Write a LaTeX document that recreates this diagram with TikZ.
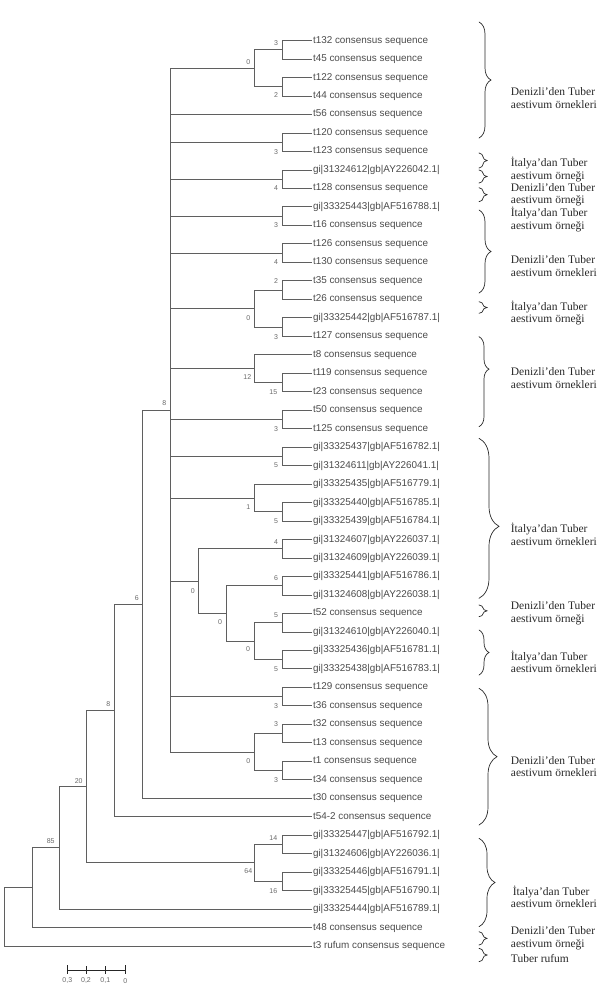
\documentclass[tikz,border=0pt]{standalone}
\usepackage{fontspec}
\setmainfont{Liberation Serif}
\setsansfont{Liberation Sans}
\usepackage{tikz}
\usetikzlibrary{decorations.pathreplacing}
\definecolor{treegray}{RGB}{95,95,95}
\definecolor{labgray}{RGB}{75,75,75}
\definecolor{bootgray}{RGB}{105,105,105}
\definecolor{notegray}{RGB}{40,40,40}

\tikzset{
  branch/.style={draw=treegray, line width=0.8pt},
  leaf/.style={anchor=west, inner sep=1pt, outer sep=0pt, text=labgray, font=\sffamily\fontsize{9.9}{11}\selectfont, text height=7pt, text depth=2pt},
  boot/.style={inner sep=0pt, text=bootgray, font=\sffamily\fontsize{7}{8}\selectfont},
  note/.style={anchor=west, inner sep=0pt, align=left, text=notegray, font=\fontsize{11.5}{12.7}\selectfont},
  notebrace/.style={draw=notegray, line width=0.7pt, line cap=round, decorate, decoration={brace, amplitude=#1}},
  notebrace/.default=12pt
}

\begin{document}
\begin{tikzpicture}[x=1pt,y=1pt,yscale=-1,xscale=1]
\useasboundingbox (0,0) rectangle (612,986);

% Text Node (leaves)
\node[leaf] (t132) at (312,40.5) {t132 consensus sequence};
\node[leaf] (t45) at (312,59.0) {t45 consensus sequence};
\node[leaf] (t122) at (312,77.5) {t122 consensus sequence};
\node[leaf] (t44) at (312,95.9) {t44 consensus sequence};
\node[leaf] (t56) at (312,114.4) {t56 consensus sequence};
\node[leaf] (t120) at (312,132.9) {t120 consensus sequence};
\node[leaf] (t123) at (312,151.4) {t123 consensus sequence};
\node[leaf] (gi612) at (312,169.9) {gi|31324612|gb|AY226042.1|};
\node[leaf] (t128) at (312,188.3) {t128 consensus sequence};
\node[leaf] (gi443) at (312,206.8) {gi|33325443|gb|AF516788.1|};
\node[leaf] (t16) at (312,225.3) {t16 consensus sequence};
\node[leaf] (t126) at (312,243.8) {t126 consensus sequence};
\node[leaf] (t130) at (312,262.3) {t130 consensus sequence};
\node[leaf] (t35) at (312,280.7) {t35 consensus sequence};
\node[leaf] (t26) at (312,299.2) {t26 consensus sequence};
\node[leaf] (gi442) at (312,317.7) {gi|33325442|gb|AF516787.1|};
\node[leaf] (t127) at (312,336.2) {t127 consensus sequence};
\node[leaf] (t8) at (312,354.7) {t8 consensus sequence};
\node[leaf] (t119) at (312,373.1) {t119 consensus sequence};
\node[leaf] (t23) at (312,391.6) {t23 consensus sequence};
\node[leaf] (t50) at (312,410.1) {t50 consensus sequence};
\node[leaf] (t125) at (312,428.6) {t125 consensus sequence};
\node[leaf] (gi437) at (312,447.1) {gi|33325437|gb|AF516782.1|};
\node[leaf] (gi611) at (312,465.5) {gi|31324611|gb|AY226041.1|};
\node[leaf] (gi435) at (312,484.0) {gi|33325435|gb|AF516779.1|};
\node[leaf] (gi440) at (312,502.5) {gi|33325440|gb|AF516785.1|};
\node[leaf] (gi439) at (312,521.0) {gi|33325439|gb|AF516784.1|};
\node[leaf] (gi607) at (312,539.5) {gi|31324607|gb|AY226037.1|};
\node[leaf] (gi609) at (312,557.9) {gi|31324609|gb|AY226039.1|};
\node[leaf] (gi441) at (312,576.4) {gi|33325441|gb|AF516786.1|};
\node[leaf] (gi608) at (312,594.9) {gi|31324608|gb|AY226038.1|};
\node[leaf] (t52) at (312,613.4) {t52 consensus sequence};
\node[leaf] (gi610) at (312,631.9) {gi|31324610|gb|AY226040.1|};
\node[leaf] (gi436) at (312,650.3) {gi|33325436|gb|AF516781.1|};
\node[leaf] (gi438) at (312,668.8) {gi|33325438|gb|AF516783.1|};
\node[leaf] (t129) at (312,687.3) {t129 consensus sequence};
\node[leaf] (t36) at (312,705.8) {t36 consensus sequence};
\node[leaf] (t32) at (312,724.3) {t32 consensus sequence};
\node[leaf] (t13) at (312,742.7) {t13 consensus sequence};
\node[leaf] (t1) at (312,761.2) {t1 consensus sequence};
\node[leaf] (t34) at (312,779.7) {t34 consensus sequence};
\node[leaf] (t30) at (312,798.2) {t30 consensus sequence};
\node[leaf] (t54b) at (312,816.7) {t54-2 consensus sequence};
\node[leaf] (gi447) at (312,835.1) {gi|33325447|gb|AF516792.1|};
\node[leaf] (gi606) at (312,853.6) {gi|31324606|gb|AY226036.1|};
\node[leaf] (gi446) at (312,872.1) {gi|33325446|gb|AF516791.1|};
\node[leaf] (gi445) at (312,890.6) {gi|33325445|gb|AF516790.1|};
\node[leaf] (gi444) at (312,909.1) {gi|33325444|gb|AF516789.1|};
\node[leaf] (t48) at (312,927.5) {t48 consensus sequence};
\node[leaf] (t3) at (312,946.0) {t3 rufum consensus sequence};

% Internal nodes
\coordinate (n1) at (282.7,49.75);
\coordinate (n2) at (282.7,86.7);
\coordinate (n3) at (254.3,68.2);
\coordinate (n4) at (282.7,142.15);
\coordinate (n5) at (282.7,179.1);
\coordinate (n6) at (282.7,216.05);
\coordinate (n7) at (282.7,253.05);
\coordinate (n8) at (282.7,289.95);
\coordinate (n9) at (282.7,326.95);
\coordinate (n10) at (254.3,308.45);
\coordinate (n11) at (282.7,382.35);
\coordinate (n12) at (254.3,368.5);
\coordinate (n13) at (282.7,419.35);
\coordinate (n14) at (282.7,456.3);
\coordinate (n15) at (282.7,511.75);
\coordinate (n16) at (254.3,497.9);
\coordinate (n17) at (282.7,548.7);
\coordinate (n18) at (282.7,585.65);
\coordinate (n19) at (282.7,622.65);
\coordinate (n20) at (282.7,659.55);
\coordinate (n21) at (254.3,641.1);
\coordinate (n22) at (226.7,613.4);
\coordinate (n23) at (198.7,581.05);
\coordinate (n24) at (282.7,696.55);
\coordinate (n25) at (282.7,733.5);
\coordinate (n26) at (282.7,770.45);
\coordinate (n27) at (254.3,751.98);
\coordinate (n28) at (170.7,410.1);
\coordinate (n29) at (142.7,604.15);
\coordinate (n30) at (114.3,710.4);
\coordinate (n31) at (282.7,844.35);
\coordinate (n32) at (282.7,881.35);
\coordinate (n33) at (254.3,862.85);
\coordinate (n34) at (86.7,786.6);
\coordinate (n35) at (59.3,847.85);
\coordinate (n36) at (32,887.7);
\coordinate (root) at (4,916.85);

%Straight Lines (cherries)
\draw[branch] (n1) |- (t132.west);
\draw[branch] (n1) |- (t45.west);
\draw[branch] (n2) |- (t122.west);
\draw[branch] (n2) |- (t44.west);
\draw[branch] (n3) |- (n1);
\draw[branch] (n3) |- (n2);
\draw[branch] (n4) |- (t120.west);
\draw[branch] (n4) |- (t123.west);
\draw[branch] (n5) |- (gi612.west);
\draw[branch] (n5) |- (t128.west);
\draw[branch] (n6) |- (gi443.west);
\draw[branch] (n6) |- (t16.west);
\draw[branch] (n7) |- (t126.west);
\draw[branch] (n7) |- (t130.west);
\draw[branch] (n8) |- (t35.west);
\draw[branch] (n8) |- (t26.west);
\draw[branch] (n9) |- (gi442.west);
\draw[branch] (n9) |- (t127.west);
\draw[branch] (n10) |- (n8);
\draw[branch] (n10) |- (n9);
\draw[branch] (n11) |- (t119.west);
\draw[branch] (n11) |- (t23.west);
\draw[branch] (n12) |- (t8.west);
\draw[branch] (n12) |- (n11);
\draw[branch] (n13) |- (t50.west);
\draw[branch] (n13) |- (t125.west);
\draw[branch] (n14) |- (gi437.west);
\draw[branch] (n14) |- (gi611.west);
\draw[branch] (n15) |- (gi440.west);
\draw[branch] (n15) |- (gi439.west);
\draw[branch] (n16) |- (gi435.west);
\draw[branch] (n16) |- (n15);
\draw[branch] (n17) |- (gi607.west);
\draw[branch] (n17) |- (gi609.west);
\draw[branch] (n18) |- (gi441.west);
\draw[branch] (n18) |- (gi608.west);
\draw[branch] (n19) |- (t52.west);
\draw[branch] (n19) |- (gi610.west);
\draw[branch] (n20) |- (gi436.west);
\draw[branch] (n20) |- (gi438.west);
\draw[branch] (n21) |- (n19);
\draw[branch] (n21) |- (n20);
\draw[branch] (n22) |- (n18);
\draw[branch] (n22) |- (n21);
\draw[branch] (n23) |- (n17);
\draw[branch] (n23) |- (n22);
\draw[branch] (n24) |- (t129.west);
\draw[branch] (n24) |- (t36.west);
\draw[branch] (n25) |- (t32.west);
\draw[branch] (n25) |- (t13.west);
\draw[branch] (n26) |- (t1.west);
\draw[branch] (n26) |- (t34.west);
\draw[branch] (n27) |- (n25);
\draw[branch] (n27) |- (n26);
%Straight Lines (polytomy)
\draw[branch] (n28) |- (n3);
\draw[branch] (n28) |- (t56.west);
\draw[branch] (n28) |- (n4);
\draw[branch] (n28) |- (n5);
\draw[branch] (n28) |- (n6);
\draw[branch] (n28) |- (n7);
\draw[branch] (n28) |- (n10);
\draw[branch] (n28) |- (n12);
\draw[branch] (n28) |- (n13);
\draw[branch] (n28) |- (n14);
\draw[branch] (n28) |- (n16);
\draw[branch] (n28) |- (n23);
\draw[branch] (n28) |- (n24);
\draw[branch] (n28) |- (n27);
%Straight Lines (backbone)
\draw[branch] (n29) |- (n28);
\draw[branch] (n29) |- (t30.west);
\draw[branch] (n30) |- (n29);
\draw[branch] (n30) |- (t54b.west);
\draw[branch] (n31) |- (gi447.west);
\draw[branch] (n31) |- (gi606.west);
\draw[branch] (n32) |- (gi446.west);
\draw[branch] (n32) |- (gi445.west);
\draw[branch] (n33) |- (n31);
\draw[branch] (n33) |- (n32);
\draw[branch] (n34) |- (n30);
\draw[branch] (n34) |- (n33);
\draw[branch] (n35) |- (n34);
\draw[branch] (n35) |- (gi444.west);
\draw[branch] (n36) |- (n35);
\draw[branch] (n36) |- (t48.west);
\draw[branch] (root) |- (n36);
\draw[branch] (root) |- (t3.west);

% Text Node (bootstrap values)
\node[boot] (b1) at (276,43.3) {3};
\node[boot] (b3) at (248.3,61.7) {0};
\node[boot] (b2) at (276,95) {2};
\node[boot] (b4) at (276,151.7) {3};
\node[boot] (b5) at (276,187.7) {4};
\node[boot] (b6) at (276,225) {3};
\node[boot] (b7) at (276,262.3) {4};
\node[boot] (b8) at (276,281) {2};
\node[boot] (b10) at (248.3,317.7) {0};
\node[boot] (b9) at (276,336.7) {3};
\node[boot] (b12) at (247.3,377.3) {12};
\node[boot] (b11) at (273.3,392.3) {15};
\node[boot] (b28) at (164.3,403.3) {8};
\node[boot] (b13) at (276,429) {3};
\node[boot] (b14) at (276,465) {5};
\node[boot] (b16) at (248.3,507.3) {1};
\node[boot] (b15) at (276,520.7) {5};
\node[boot] (b17) at (276,542.3) {4};
\node[boot] (b18) at (276,578.3) {6};
\node[boot] (b23) at (192.7,590.7) {0};
\node[boot] (b29) at (136.7,597.7) {6};
\node[boot] (b19) at (276,615) {5};
\node[boot] (b22) at (220,622.3) {0};
\node[boot] (b21) at (248,649.5) {0};
\node[boot] (b20) at (276,669.3) {5};
\node[boot] (b30) at (108.3,704) {8};
\node[boot] (b24) at (276,706) {3};
\node[boot] (b25) at (276,724.3) {3};
\node[boot] (b27) at (248.3,761) {0};
\node[boot] (b26) at (276,780) {3};
\node[boot] (b34) at (78.7,780.7) {20};
\node[boot] (b31) at (273.3,838.3) {14};
\node[boot] (b35) at (50.7,841) {85};
\node[boot] (b33) at (248.3,870.7) {64};
\node[boot] (b32) at (273.3,890.7) {16};

%Scale bar
\draw[line width=1pt, draw=black!85] (67.3,970) -- (125.3,970);
\draw[line width=0.8pt, draw=black!85] (67.3,965) -- (67.3,973.5);
\draw[line width=0.8pt, draw=black!85] (86,966) -- (86,973.5);
\draw[line width=0.8pt, draw=black!85] (105.3,966) -- (105.3,973.5);
\draw[line width=0.8pt, draw=black!85] (125.3,965) -- (125.3,973.5);
\node[boot] (s3) at (67.3,980.7) {0,3};
\node[boot] (s2) at (86,980.7) {0,2};
\node[boot] (s1) at (105.3,980.7) {0,1};
\node[boot] (s0) at (125.3,980.7) {0};

%Curve Lines (braces)
\draw[notebrace] (479,22) -- (479,138);
\draw[notebrace=8pt] (479,153) -- (479,168);
\draw[notebrace=8pt] (479,170) -- (479,183);
\draw[notebrace=8pt] (479,187.7) -- (479,201.7);
\draw[notebrace] (479,210) -- (479,293);
\draw[notebrace=8pt] (479,301.7) -- (479,313.3);
\draw[notebrace=10pt, decoration={aspect=0.36}] (479,336.7) -- (479,426.7);
\draw[notebrace=20pt, decoration={aspect=0.55}] (479,438.3) -- (479,598.3);
\draw[notebrace=8pt] (479,605) -- (479,616.7);
\draw[notebrace=10pt] (479,630) -- (479,675);
\draw[notebrace=18pt] (479,688.3) -- (479,825);
\draw[notebrace=16pt] (479,838.3) -- (479,926.7);
\draw[notebrace=8pt] (479,931.7) -- (479,945);
\draw[notebrace=8pt] (479,948.3) -- (479,961.7);

% Text Node (groups)
\node[note] (g1) at (510.7,98) {Denizli’den Tuber\\aestivum örnekleri};
\node[note] (g2) at (510.7,169.7) {İtalya’dan Tuber\\aestivum örneği};
\node[note] (g3) at (510.7,194.7) {Denizli’den Tuber\\aestivum örneği};
\node[note] (g4) at (510.7,219.5) {İtalya’dan Tuber\\aestivum örneği};
\node[note] (g5) at (510.7,266.2) {Denizli’den Tuber\\aestivum örnekleri};
\node[note] (g6) at (510.7,313) {İtalya’dan Tuber\\aestivum örneği};
\node[note] (g7) at (510.7,378.3) {Denizli’den Tuber\\aestivum örnekleri};
\node[note] (g8) at (510.7,534.2) {İtalya’dan Tuber\\aestivum örnekleri};
\node[note] (g9) at (510.7,613) {Denizli’den Tuber\\aestivum örneği};
\node[note] (g10) at (510.7,661.7) {İtalya’dan Tuber\\aestivum örnekleri};
\node[note] (g11) at (510.7,766.7) {Denizli’den Tuber\\aestivum örnekleri};
\node[note] (g12) at (510.7,896.7) {\hspace{2pt}İtalya’dan Tuber\\aestivum örnekleri};
\node[note] (g13) at (510.7,938.3) {Denizli’den Tuber\\aestivum örneği};
\node[note] (g14) at (510.7,958.3) {Tuber rufum};
\end{tikzpicture}
\end{document}
